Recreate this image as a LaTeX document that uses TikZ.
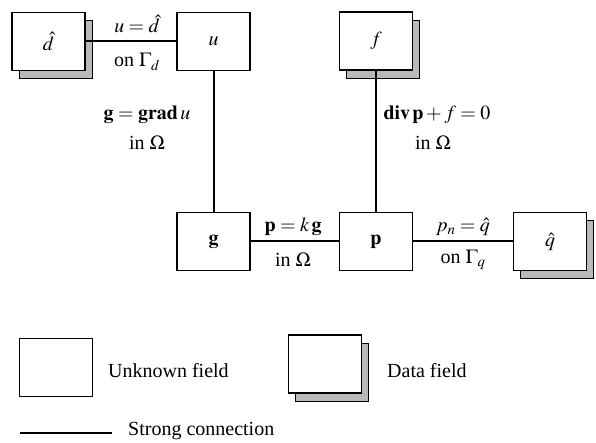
\documentclass[tikz,border=0pt]{standalone}
\usepackage{mathptmx}
\usepackage{fontspec}
\setmainfont{Liberation Serif}
\usetikzlibrary{shadows}
\begin{document}
\begin{tikzpicture}[x=1pt,y=-1pt, font=\fontsize{20}{24}\selectfont,
  fieldbox/.style={draw, line width=1.4pt, fill=white, minimum width=73pt, minimum height=58pt, inner sep=0pt},
  databox/.style={fieldbox, drop shadow={shadow xshift=7pt, shadow yshift=-8pt, fill=gray!55, draw=black, line width=0.8pt, opacity=1}},
  link/.style={line width=2pt},
  lbl/.style={inner sep=0pt}]
\useasboundingbox (0,0) rectangle (596,443);
% field nodes
\node[databox] (dhat) at (48.5,41.5) {$\hat d$};
\node[fieldbox] (u) at (213.5,41.5) {$u$};
\node[databox] (f) at (376,41) {$f$};
\node[fieldbox] (g) at (213.5,241.5) {$\mathbf{g}$};
\node[fieldbox] (p) at (376,241.5) {$\mathbf{p}$};
\node[databox] (qhat) at (550,241.5) {$\hat q$};
% connections
\draw[link] (dhat) -- (u);
\draw[link] (u) -- (g);
\draw[link] (f) -- (p);
\draw[link] (g) -- (p);
\draw[link] (p) -- (qhat);
% labels
\node[lbl] (l1) at (137,24) {$u=\hat d$};
\node[lbl] (l2) at (137,62) {on $\Gamma_d$};
\node[lbl] (l3) at (147,115) {$\mathbf{g}=\mathbf{grad}\,u$};
\node[lbl] (l4) at (147,143) {in $\Omega$};
\node[lbl] (l5) at (437,115) {$\mathbf{div}\,\mathbf{p}+f=0$};
\node[lbl] (l6) at (433,143) {in $\Omega$};
\node[lbl] (l7) at (293,227) {$\mathbf{p}=k\,\mathbf{g}$};
\node[lbl] (l8) at (293,260) {in $\Omega$};
\node[lbl] (l9) at (463,227) {$p_n=\hat q$};
\node[lbl] (l10) at (463,260) {on $\Gamma_q$};
% legend
\node[fieldbox] (unk) at (56,367.5) {};
\node[lbl, anchor=west] (unkt) at (108,371) {Unknown field};
\node[databox] (dat) at (325,364) {};
\node[lbl, anchor=west] (datt) at (387,371) {Data field};
\coordinate (s1) at (20,433);
\coordinate (s2) at (112,433);
\draw[link] (s1) -- (s2);
\node[lbl, anchor=west] (strt) at (128,431) {Strong connection};
\end{tikzpicture}
\end{document}
